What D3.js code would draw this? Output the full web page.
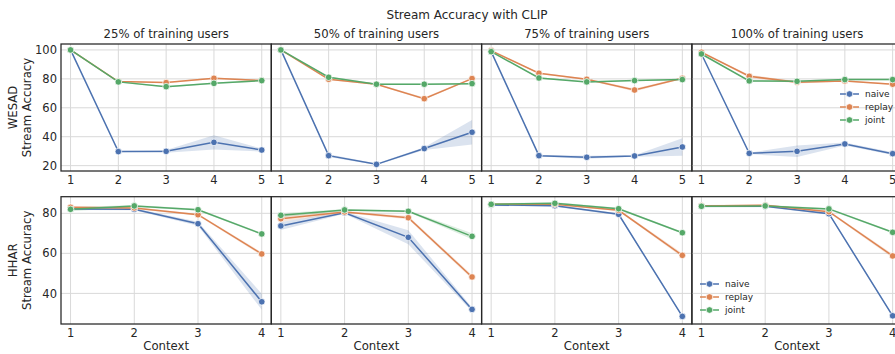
<!DOCTYPE html>
<meta charset="utf-8">
<style>
  body { margin: 0; background: #fff; }
  text { font-family: "DejaVu Sans", sans-serif; fill: #262626; }
  .grid line { stroke: #d9d9d9; stroke-width: 1; }
  .frame { fill: none; stroke: #262626; stroke-width: 1.25; }
</style>
<svg width="895" height="354"></svg>
<script src="https://d3js.org/d3.v7.min.js"></script>
<script>

  var fractions = ["25%", "50%", "75%", "100%"];
  var methods = ["naive", "replay", "joint"];
  var colors = ["#4c72b0", "#dd8452", "#55a868"];

  // WESAD, contexts 1..5, one row per fraction of training users
  var wesadContexts = [1, 2, 3, 4, 5];
  var wesadNaive = [
    [100, 29.7, 29.9, 36.1, 30.8],
    [100, 26.9, 20.9, 31.8, 43.1],
    [98.8, 26.9, 25.8, 26.7, 32.9],
    [97.2, 28.5, 29.9, 35.0, 28.3]
  ];
  var wesadReplay = [
    [100, 78.1, 77.4, 80.4, 78.8],
    [100, 79.7, 76.3, 66.3, 80.2],
    [99.5, 83.9, 79.7, 72.3, 80.4],
    [98.4, 81.8, 77.6, 78.6, 76.3]
  ];
  var wesadJoint = [
    [100, 77.9, 74.6, 76.9, 78.8],
    [100, 81.1, 76.3, 76.3, 76.7],
    [98.8, 80.6, 77.9, 78.8, 79.5],
    [97.2, 78.6, 78.3, 79.5, 79.5]
  ];
  // half widths of the shaded bands
  var wesadNaiveBand = [
    [0, 0.5, 1, 5, 1],
    [0, 1, 0.5, 1, 8.5],
    [0, 0.5, 1, 0.5, 6],
    [0, 0.5, 4, 1, 1]
  ];
  var wesadReplayBand = [
    [0, 0.5, 0.5, 0.5, 0.5],
    [0, 0.5, 0.5, 0.8, 0.5],
    [0, 0.5, 0.5, 1, 0.5],
    [0, 1, 0.8, 0.5, 0.5]
  ];
  var wesadJointBand = [
    [0, 0.5, 0.5, 0.5, 0.5],
    [0, 0.5, 0.5, 0.5, 0.5],
    [0, 0.5, 0.5, 0.5, 0.5],
    [0, 0.5, 0.5, 0.5, 0.5]
  ];

  // HHAR, contexts 1..4
  var hharContexts = [1, 2, 3, 4];
  var hharNaive = [
    [82.2, 82.0, 74.8, 35.8],
    [73.7, 80.3, 68.0, 32.0],
    [84.2, 83.8, 79.5, 28.5],
    [83.5, 83.5, 79.8, 28.8]
  ];
  var hharReplay = [
    [83.0, 82.7, 79.3, 59.7],
    [77.3, 80.7, 77.8, 48.2],
    [84.5, 84.5, 81.5, 59.0],
    [83.7, 84.0, 80.8, 58.7]
  ];
  var hharJoint = [
    [82.0, 83.7, 81.8, 69.7],
    [79.0, 81.7, 81.0, 68.5],
    [84.5, 85.0, 82.3, 70.3],
    [83.5, 83.7, 82.2, 70.5]
  ];
  var hharNaiveBand = [
    [0.5, 0.5, 1, 4],
    [2, 0.5, 3.5, 1],
    [0.5, 0.5, 0.5, 0.5],
    [0.5, 0.5, 0.5, 0.5]
  ];
  var hharReplayBand = [
    [0.5, 0.5, 0.5, 0.8],
    [1.5, 0.5, 0.8, 1],
    [0.5, 0.5, 0.5, 1],
    [0.5, 0.5, 0.5, 1]
  ];
  var hharJointBand = [
    [1, 0.5, 0.5, 0.5],
    [1, 0.5, 0.5, 1.5],
    [0.5, 0.5, 0.5, 0.5],
    [0.5, 0.5, 0.5, 0.5]
  ];

  var wesadTicks = [20, 40, 60, 80, 100];
  var hharTicks = [40, 60, 80];

  var svg = d3.select("svg");

  var panelLeft = 61, panelW = 210.3;
  var rows = [
    { name: "WESAD", top: 44, bottom: 171, ctx: wesadContexts,
      series: [wesadNaive, wesadReplay, wesadJoint],
      bands: [wesadNaiveBand, wesadReplayBand, wesadJointBand],
      yDomain: [16.3, 104.1], yTicks: wesadTicks, xDomain: [0.8, 5.2], xlabel: false },
    { name: "HHAR", top: 196.7, bottom: 324, ctx: hharContexts,
      series: [hharNaive, hharReplay, hharJoint],
      bands: [hharNaiveBand, hharReplayBand, hharJointBand],
      yDomain: [24.7, 88.3], yTicks: hharTicks, xDomain: [0.85, 4.15], xlabel: true }
  ];

  svg.append("text")
    .attr("x", 467).attr("y", 19)
    .attr("text-anchor", "middle")
    .style("font-size", "12px")
    .text("Stream Accuracy with CLIP");

  rows.forEach(function (row, r) {
    var y = d3.scaleLinear().domain(row.yDomain).range([row.bottom, row.top]);

    // row label
    var midY = (row.top + row.bottom) / 2;
    svg.append("text")
      .attr("transform", "translate(17," + midY + ") rotate(-90)")
      .attr("text-anchor", "middle")
      .style("font-size", "11.7px")
      .text(row.name);
    svg.append("text")
      .attr("transform", "translate(30.5," + midY + ") rotate(-90)")
      .attr("text-anchor", "middle")
      .style("font-size", "11.7px")
      .text("Stream Accuracy");

    fractions.forEach(function (frac, p) {
      var x0 = panelLeft + p * panelW;
      var x = d3.scaleLinear().domain(row.xDomain).range([x0, x0 + panelW]);
      var g = svg.append("g");

      var grid = g.append("g").attr("class", "grid");
      grid.selectAll(".vx").data(row.ctx).enter().append("line")
        .attr("x1", d => x(d)).attr("x2", d => x(d))
        .attr("y1", row.top).attr("y2", row.bottom);
      grid.selectAll(".hy").data(row.yTicks).enter().append("line")
        .attr("x1", x0).attr("x2", x0 + panelW)
        .attr("y1", d => y(d)).attr("y2", d => y(d));

      // x tick labels
      g.selectAll(".xt").data(row.ctx).enter().append("text")
        .attr("x", d => x(d)).attr("y", row.bottom + 13)
        .attr("text-anchor", "middle")
        .style("font-size", "11.5px")
        .text(d => d);

      if (p === 0) {
        g.selectAll(".yt").data(row.yTicks).enter().append("text")
          .attr("x", x0 - 4).attr("y", d => y(d)).attr("dy", "0.36em")
          .attr("text-anchor", "end")
          .style("font-size", "11.5px")
          .text(d => d);
      }

      if (r === 0) {
        g.append("text")
          .attr("x", x0 + panelW / 2).attr("y", 37.5)
          .attr("text-anchor", "middle")
          .style("font-size", "11.7px")
          .text(frac + " of training users");
      }
      if (row.xlabel) {
        g.append("text")
          .attr("x", x0 + panelW / 2).attr("y", 350)
          .attr("text-anchor", "middle")
          .style("font-size", "11.7px")
          .text("Context");
      }

      var plot = g.append("g");
      row.series.forEach(function (s, m) {
        var vals = s[p], band = row.bands[m][p];
        var pts = row.ctx.map(function (c, i) { return { c: c, v: vals[i], b: band[i] }; });

        plot.append("path")
          .datum(pts)
          .attr("fill", colors[m]).attr("fill-opacity", 0.2)
          .attr("d", d3.area()
            .x(d => x(d.c))
            .y0(d => y(d.v - d.b))
            .y1(d => y(d.v + d.b)));
      });
      row.series.forEach(function (s, m) {
        var vals = s[p];
        var pts = row.ctx.map(function (c, i) { return { c: c, v: vals[i] }; });
        plot.append("path")
          .datum(pts)
          .attr("fill", "none")
          .attr("stroke", colors[m]).attr("stroke-width", 1.5)
          .attr("d", d3.line().x(d => x(d.c)).y(d => y(d.v)));
        plot.selectAll(".pt" + m).data(pts).enter().append("circle")
          .attr("cx", d => x(d.c)).attr("cy", d => y(d.v))
          .attr("r", 3.3)
          .attr("fill", colors[m])
          .attr("stroke", "#fff").attr("stroke-width", 0.75);
      });

      g.append("rect").attr("class", "frame")
        .attr("x", x0).attr("y", row.top)
        .attr("width", panelW).attr("height", row.bottom - row.top);
    });
  });

  // legends in the last column
  var legends = [
    { lx: 840, ly: 94 },
    { lx: 700, ly: 284 }
  ];
  legends.forEach(function (L) {
    var lg = svg.append("g");
    methods.forEach(function (name, m) {
      var yy = L.ly + m * 13;
      lg.append("line")
        .attr("x1", L.lx).attr("x2", L.lx + 19)
        .attr("y1", yy).attr("y2", yy)
        .attr("stroke", colors[m]).attr("stroke-width", 1.5);
      lg.append("circle")
        .attr("cx", L.lx + 9.5).attr("cy", yy).attr("r", 3.3)
        .attr("fill", colors[m]).attr("stroke", "#fff").attr("stroke-width", 0.75);
      lg.append("text")
        .attr("x", L.lx + 25).attr("y", yy).attr("dy", "0.35em")
        .style("font-size", "9px")
        .text(name);
    });
  });

</script>
